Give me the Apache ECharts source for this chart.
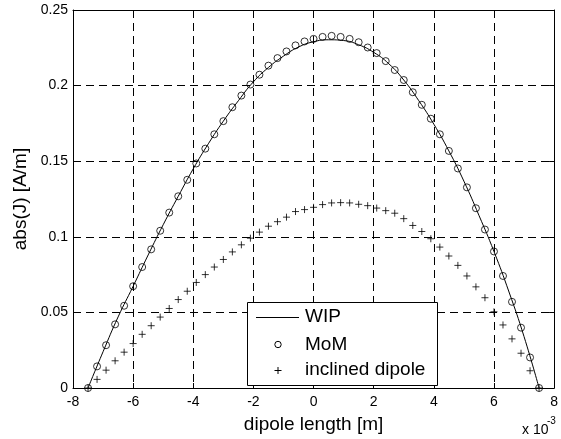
<!DOCTYPE html>
<html>
<head>
<meta charset="utf-8">
<script src="https://cdn.jsdelivr.net/npm/echarts@6/dist/echarts.min.js"></script>
<style>
  html, body { margin: 0; padding: 0; background: #fff; }
  #chart { width: 561px; height: 439px; }
</style>
</head>
<body>
<div id="chart"></div>
<script>
// dipole position, units of 1e-3 m
var dipoleX = [-7.5, -7.2, -6.9, -6.6, -6.3, -6.0, -5.7, -5.4, -5.1, -4.8, -4.5, -4.2, -3.9, -3.6, -3.3, -3.0, -2.7,
  -2.4, -2.1, -1.8, -1.5, -1.2, -0.9, -0.6, -0.3, 0.0, 0.3, 0.6, 0.9, 1.2, 1.5, 1.8, 2.1, 2.4, 2.7, 3.0, 3.3, 3.6,
  3.9, 4.2, 4.5, 4.8, 5.1, 5.4, 5.7, 6.0, 6.3, 6.6, 6.9, 7.2, 7.5];

var momValues = [0, 0.0143, 0.0283, 0.0421, 0.0544, 0.0673, 0.080, 0.0917, 0.104, 0.116, 0.1268, 0.1377, 0.1485,
  0.1583, 0.1678, 0.1765, 0.1857, 0.1934, 0.2007, 0.2072, 0.2132, 0.2182, 0.2226, 0.2266, 0.2292, 0.2309, 0.2322,
  0.2329, 0.2322, 0.2309, 0.2287, 0.2252, 0.2215, 0.2162, 0.2103, 0.2037, 0.1956, 0.1873, 0.1781, 0.1678, 0.1568,
  0.1452, 0.1327, 0.1189, 0.1048, 0.0903, 0.0741, 0.0570, 0.0399, 0.0202, 0];

var inclinedValues = [0, 0.0057, 0.0118, 0.018, 0.0237, 0.0294, 0.0355, 0.0412, 0.0469, 0.0526, 0.0585, 0.064,
  0.0698, 0.075, 0.080, 0.085, 0.090, 0.0947, 0.0991, 0.1031, 0.107, 0.110, 0.113, 0.1167, 0.118, 0.1195, 0.1213,
  0.1224, 0.1226, 0.1224, 0.1215, 0.1206, 0.119, 0.1173, 0.1156, 0.112, 0.1075, 0.1035, 0.0987, 0.0932, 0.0873,
  0.0811, 0.0741, 0.0669, 0.0597, 0.0504, 0.0417, 0.0325, 0.023, 0.0114, 0];

var wipX = [-7.5, -7.0, -6.5, -6.0, -5.5, -5.0, -4.5, -4.0, -3.5, -3.0, -2.5, -2.0, -1.5, -1.0, -0.5, 0, 0.5, 1.0,
  1.5, 2.0, 2.5, 3.0, 3.5, 4.0, 4.5, 5.0, 5.5, 6.0, 6.5, 7.0, 7.5];
var wipValues = [0, 0.024, 0.047, 0.0673, 0.088, 0.108, 0.1268, 0.145, 0.1615, 0.1765, 0.190, 0.2025, 0.212,
  0.2195, 0.2255, 0.229, 0.2303, 0.2298, 0.227, 0.222, 0.2145, 0.2037, 0.190, 0.1745, 0.1568, 0.1368, 0.1142,
  0.0903, 0.0635, 0.034, 0];

var legendNames = ['WIP', 'MoM', 'inclined dipole'];

function pairs(xs, ys) {
  return xs.map(function (x, i) { return [x, ys[i]]; });
}

var FONT = '"Liberation Sans", Arial, Helvetica, sans-serif';
var plusPath = 'path://M0,5L10,5M5,0L5,10';

var chart = echarts.init(document.getElementById('chart'), null, { renderer: 'canvas' });

var tickStyle = { show: true, inside: true, length: 5, lineStyle: { color: '#000', width: 1 } };
var lineStyle = { color: '#000', width: 1 };
var gridDash = { show: true, lineStyle: { color: '#000', width: 1, type: [8, 5] } };

function legendText(label, y) {
  return { type: 'text', z: 101, x: 305, y: y,
    style: { text: label, font: '19px ' + FONT, fill: '#000', verticalAlign: 'middle' } };
}

var option = {
  backgroundColor: '#fff',
  animation: false,
  textStyle: { fontFamily: FONT },
  grid: { left: 73, right: 6, top: 10, bottom: 49, show: false },
  xAxis: [{
    type: 'value', min: -8, max: 8, interval: 2, position: 'bottom',
    axisLine: { show: true, onZero: false, lineStyle: lineStyle },
    axisTick: tickStyle,
    axisLabel: { color: '#000', fontSize: 14, margin: 7, fontFamily: FONT },
    splitLine: gridDash,
    name: 'dipole length [m]', nameLocation: 'middle', nameGap: 27,
    nameTextStyle: { color: '#000', fontSize: 19, fontFamily: FONT }
  }, {
    type: 'value', min: -8, max: 8, interval: 2, position: 'top',
    axisLine: { show: true, onZero: false, lineStyle: lineStyle },
    axisTick: tickStyle, axisLabel: { show: false }, splitLine: { show: false }
  }],
  yAxis: [{
    type: 'value', min: 0, max: 0.25, interval: 0.05, position: 'left',
    axisLine: { show: true, onZero: false, lineStyle: lineStyle },
    axisTick: tickStyle,
    axisLabel: { color: '#000', fontSize: 14, margin: 5, fontFamily: FONT },
    splitLine: gridDash,
    name: 'abs(J) [A/m]', nameLocation: 'middle', nameGap: 36,
    nameTextStyle: { color: '#000', fontSize: 19, fontFamily: FONT }
  }, {
    type: 'value', min: 0, max: 0.25, interval: 0.05, position: 'right',
    axisLine: { show: true, onZero: false, lineStyle: lineStyle },
    axisTick: tickStyle, axisLabel: { show: false }, splitLine: { show: false }
  }],
  series: [{
    name: legendNames[0], type: 'line', data: pairs(wipX, wipValues),
    showSymbol: false, symbol: 'none', smooth: true,
    lineStyle: { color: '#000', width: 1 }, z: 3
  }, {
    name: legendNames[1], type: 'scatter', data: pairs(dipoleX, momValues),
    symbol: 'circle', symbolSize: 7,
    itemStyle: { color: 'none', borderColor: '#000', borderWidth: 1 }, z: 4
  }, {
    name: legendNames[2], type: 'scatter', data: pairs(dipoleX, inclinedValues),
    symbol: plusPath, symbolSize: 7,
    itemStyle: { color: 'none', borderColor: '#000', borderWidth: 1 }, z: 4
  }],
  graphic: [
    // legend box, drawn by hand to get the MATLAB look
    { type: 'rect', z: 100, shape: { x: 247.5, y: 302.5, width: 190, height: 83 },
      style: { fill: '#fff', stroke: '#000', lineWidth: 1 } },
    { type: 'line', z: 101, shape: { x1: 256, y1: 317.5, x2: 299, y2: 317.5 },
      style: { stroke: '#000', lineWidth: 1 } },
    { type: 'circle', z: 101, shape: { cx: 278, cy: 344.5, r: 3.2 },
      style: { fill: 'none', stroke: '#000', lineWidth: 1 } },
    { type: 'line', z: 101, shape: { x1: 274.5, y1: 370.5, x2: 281.5, y2: 370.5 },
      style: { stroke: '#000', lineWidth: 1 } },
    { type: 'line', z: 101, shape: { x1: 278, y1: 367, x2: 278, y2: 374 },
      style: { stroke: '#000', lineWidth: 1 } },
    legendText(legendNames[0], 317),
    legendText(legendNames[1], 345),
    legendText(legendNames[2], 370),
    // axis multiplier
    { type: 'text', x: 522, y: 430, style: { text: 'x 10', font: '14px ' + FONT, fill: '#000',
      verticalAlign: 'middle' } },
    { type: 'text', x: 547, y: 421, style: { text: '-3', font: '10px ' + FONT, fill: '#000',
      verticalAlign: 'middle' } }
  ]
};

chart.setOption(option);
</script>
</body>
</html>
